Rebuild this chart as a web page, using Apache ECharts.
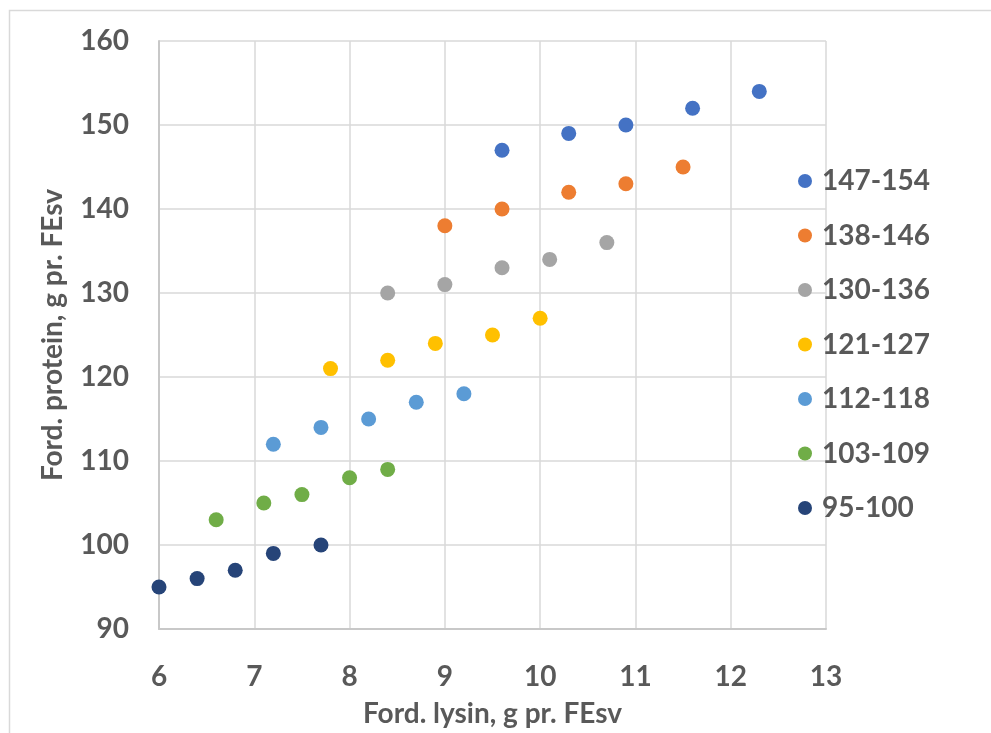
<!DOCTYPE html>
<html>
<head>
<meta charset="utf-8">
<script src="https://cdn.jsdelivr.net/npm/echarts@6/dist/echarts.min.js"></script>
<style>
  html, body { margin: 0; padding: 0; background: #ffffff; }
  #chart { width: 991px; height: 733px; }
</style>
</head>
<body>
<div id="chart"></div>
<script>
// Protein vs. lysin groups (x = lysin, y = protein)
const groupNames = ['147-154', '138-146', '130-136', '121-127', '112-118', '103-109', '95-100'];
const groupColors = ['#4472C4', '#ED7D31', '#A5A5A5', '#FFC000', '#5B9BD5', '#70AD47', '#264478'];

const lysin147 = [9.6, 10.3, 10.9, 11.6, 12.3];
const protein147 = [147, 149, 150, 152, 154];

const lysin138 = [9.0, 9.6, 10.3, 10.9, 11.5];
const protein138 = [138, 140, 142, 143, 145];

const lysin130 = [8.4, 9.0, 9.6, 10.1, 10.7];
const protein130 = [130, 131, 133, 134, 136];

const lysin121 = [7.8, 8.4, 8.9, 9.5, 10.0];
const protein121 = [121, 122, 124, 125, 127];

const lysin112 = [7.2, 7.7, 8.2, 8.7, 9.2];
const protein112 = [112, 114, 115, 117, 118];

const lysin103 = [6.6, 7.1, 7.5, 8.0, 8.4];
const protein103 = [103, 105, 106, 108, 109];

const lysin95 = [6.0, 6.4, 6.8, 7.2, 7.7];
const protein95 = [95, 96, 97, 99, 100];

const xTitle = 'Ford. lysin, g pr. FEsv';
const yTitle = 'Ford. protein, g pr. FEsv';

const groups = [
  [lysin147, protein147],
  [lysin138, protein138],
  [lysin130, protein130],
  [lysin121, protein121],
  [lysin112, protein112],
  [lysin103, protein103],
  [lysin95, protein95]
];

const textColor = '#595959';
const fontFamily = 'Lato, "Open Sans", sans-serif';

const series = groups.map(function (g, i) {
  return {
    name: groupNames[i],
    type: 'scatter',
    symbol: 'circle',
    symbolSize: 15,
    itemStyle: { color: groupColors[i], opacity: 1 },
    data: g[0].map(function (x, k) { return [x, g[1][k]]; })
  };
});

const chart = echarts.init(document.getElementById('chart'), null, { renderer: 'canvas' });
chart.setOption({
  backgroundColor: '#ffffff',
  animation: false,
  textStyle: { fontFamily: fontFamily },
  graphic: [{
    type: 'rect',
    left: 7, top: 8,
    shape: { width: 1100, height: 1000 },
    style: { fill: 'none', stroke: '#d9d9d9', lineWidth: 1.5 },
    silent: true,
    z: -1
  }],
  grid: { left: 159, right: 165, top: 41, bottom: 104, outerBoundsMode: 'none' },
  legend: {
    orient: 'vertical',
    left: 793,
    top: 161,
    icon: 'circle',
    itemWidth: 14,
    itemHeight: 14,
    itemGap: 24.5,
    data: groupNames,
    itemStyle: { opacity: 1 },
    textStyle: {
      color: textColor,
      fontSize: 28,
      fontWeight: 'bold',
      fontFamily: fontFamily,
      lineHeight: 30,
      padding: [0, 0, 0, 5]
    }
  },
  xAxis: {
    type: 'value',
    min: 6,
    max: 13,
    interval: 1,
    name: xTitle,
    nameLocation: 'middle',
    nameGap: 71,
    nameTextStyle: { color: textColor, fontSize: 28, fontWeight: 'bold', fontFamily: fontFamily },
    axisLine: { show: true, lineStyle: { color: '#c8c8c8', width: 2 } },
    axisTick: { show: false },
    axisLabel: { color: textColor, fontSize: 28, fontWeight: 'bold', margin: 34, fontFamily: fontFamily },
    splitLine: { show: true, lineStyle: { color: '#d9d9d9', width: 1.5 } }
  },
  yAxis: {
    type: 'value',
    min: 90,
    max: 160,
    interval: 10,
    name: yTitle,
    nameLocation: 'middle',
    nameGap: 92,
    nameRotate: 90,
    nameTextStyle: { color: textColor, fontSize: 28, fontWeight: 'bold', fontFamily: fontFamily },
    axisLine: { show: true, lineStyle: { color: '#c8c8c8', width: 2 } },
    axisTick: { show: false },
    axisLabel: { color: textColor, fontSize: 28, fontWeight: 'bold', margin: 30, fontFamily: fontFamily },
    splitLine: { show: true, lineStyle: { color: '#d9d9d9', width: 1.5 } }
  },
  series: series
});
</script>
</body>
</html>
